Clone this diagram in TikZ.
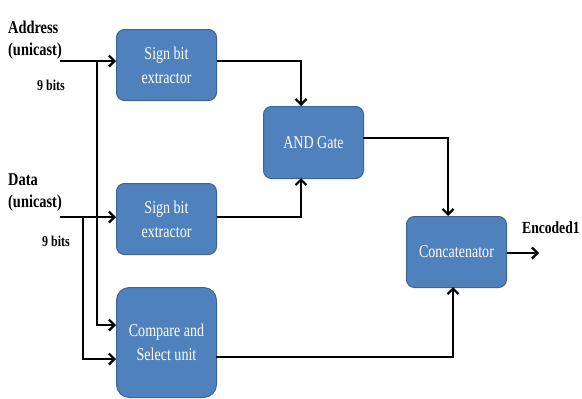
\documentclass[tikz,border=0pt]{standalone}
\usepackage{fontspec}
\setmainfont{Liberation Serif}
\newfontfamily\boxfont[FakeStretch=0.78]{Liberation Serif}
\newfontfamily\lblfont[FakeStretch=0.8]{Liberation Serif}
\usetikzlibrary{arrows.meta,calc}
\definecolor{boxfill}{HTML}{4F81BD}
\definecolor{boxline}{HTML}{3A6494}
\begin{document}
\begin{tikzpicture}[x=1pt,y=-1pt,
  blk/.style={draw=boxline,line width=1pt,fill=boxfill,rounded corners=8pt,
    text=white,font=\boxfont\fontsize{18}{24}\selectfont,align=center,anchor=north west},
  wire/.style={line width=2.2pt,black},
  arr/.style={wire,-{Straight Barb[length=5.5pt,width=11pt,line width=2.2pt]}},
  lbl/.style={font=\lblfont\bfseries\fontsize{18}{22}\selectfont,align=left,anchor=base west,inner sep=0pt},
  small/.style={font=\lblfont\bfseries\fontsize{15}{17}\selectfont,anchor=base west,inner sep=0pt}]
\useasboundingbox (0,0) rectangle (582,399);

% processing blocks
\node[blk,minimum width=100pt,minimum height=71pt] (s1) at (116,29) {Sign bit\\extractor};
\node[blk,minimum width=100pt,minimum height=71pt] (s2) at (116,183) {Sign bit\\extractor};
\node[blk,minimum width=100pt,minimum height=110pt,rounded corners=13pt] (cs) at (116,287) {Compare and\\Select unit};
\node[blk,minimum width=100pt,minimum height=72pt] (and) at (263,106) {AND Gate};
\node[blk,minimum width=100pt,minimum height=71pt] (cat) at (406,216) {Concatenator};

% input and output labels (base anchor sits on the last line)
\node[lbl] (addr) at (8,55) {Address\\(unicast)};
\node[small] (b1) at (37,90) {9 bits};
\node[lbl] (data) at (8,207) {Data\\(unicast)};
\node[small] (b2) at (42,246) {9 bits};
\node[lbl,font=\lblfont\bfseries\fontsize{17}{20}\selectfont] (enc) at (522,233) {Encoded1};

% wire ends and junctions
\coordinate (ain) at (60,61);
\coordinate (din) at (60,217);
\coordinate (aj) at (97,61);
\coordinate (dj) at (83,217);
\coordinate (out) at (539,253);

% inputs
\draw[arr] (ain) -- (ain -| s1.west);
\draw[arr] (din) -- (din -| s2.west);
\draw[arr] (aj) -- (97,325) -- (116,325);
\draw[arr] (dj) -- (83,359) -- (116,359);

% sign bits into the AND gate
\draw[arr] (s1.east |- ain) -- (301,61) -- (301,106);
\draw[arr] (s2.east |- din) -- (301,217) -- (301,178);

% into the concatenator
\draw[arr] (363,138) -- (448,138) -- (448,216);
\draw[arr] (216,357) -- (453,357) -- (453,287);
\draw[arr] (cat.east |- out) -- (out);
\end{tikzpicture}
\end{document}
